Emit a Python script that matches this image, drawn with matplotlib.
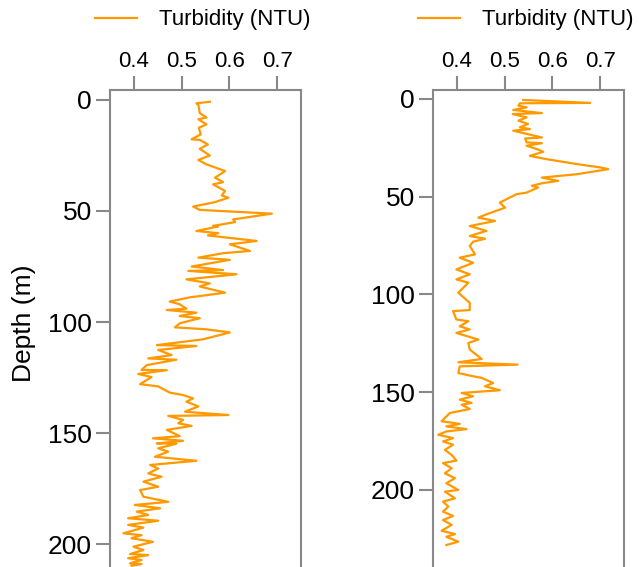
import numpy as np
import matplotlib
matplotlib.use("Agg")
import matplotlib.pyplot as plt

plt.rcParams['font.family'] = ['Liberation Sans', 'DejaVu Sans']

# ---- profile 1 (left panel) ----
depth_1 = [0.8, 1.5, 2.2, 5.9, 7.9, 8.7, 11, 12.5, 15.5, 17.7, 18, 20, 22, 25, 27, 29,
           32, 35, 37, 38, 41, 43, 44, 46, 48, 49.5, 51.2, 53.8, 55, 56.7, 57, 59, 60,
           61, 63.5, 65, 68, 69, 71, 72, 75, 76.6, 77, 78.5, 80.8, 82.6, 84, 86.8,
           88.9, 90.8, 92, 94, 94.6, 95.8, 97.3, 98.3, 100.6, 102.4, 103.3, 104.7,
           107.8, 110.4, 110.8, 112.6, 114.9, 116.4, 117, 119.4, 121.6, 121.7, 123.4,
           124.8, 128, 129, 131.8, 132.9, 134.4, 135.9, 138, 140.4, 141.9, 142.3,
           144.1, 145.6, 146.8, 148.6, 151.4, 152.4, 153.5, 154.7, 154.8, 156.9, 158.4,
           160.7, 162.5, 163.6, 164.4, 166, 168.2, 169.7, 171.9, 174.2, 175.7, 178.7,
           181, 182.4, 183.9, 185.4, 186.9, 188.4, 189.5, 191.4, 192.6, 195.2, 196,
           197.4, 199, 201.2, 202.7, 204.5, 205, 206.4, 207.2, 208.7, 209, 209.8]
turb_1 = [0.559, 0.531, 0.535, 0.538, 0.552, 0.535, 0.552, 0.536, 0.540, 0.521, 0.538,
          0.555, 0.538, 0.559, 0.535, 0.552, 0.591, 0.570, 0.587, 0.566, 0.591, 0.584,
          0.598, 0.570, 0.524, 0.538, 0.689, 0.608, 0.612, 0.566, 0.576, 0.531, 0.577,
          0.555, 0.657, 0.601, 0.643, 0.587, 0.535, 0.601, 0.521, 0.587, 0.514, 0.615,
          0.510, 0.559, 0.538, 0.591, 0.517, 0.475, 0.496, 0.510, 0.469, 0.531, 0.496,
          0.538, 0.496, 0.486, 0.552, 0.601, 0.545, 0.448, 0.531, 0.451, 0.479, 0.430,
          0.489, 0.427, 0.416, 0.469, 0.409, 0.437, 0.413, 0.451, 0.475, 0.503, 0.524,
          0.510, 0.535, 0.507, 0.598, 0.472, 0.503, 0.493, 0.521, 0.469, 0.496, 0.440,
          0.503, 0.448, 0.489, 0.451, 0.472, 0.444, 0.531, 0.475, 0.434, 0.451, 0.430,
          0.458, 0.420, 0.451, 0.413, 0.420, 0.472, 0.402, 0.455, 0.406, 0.430, 0.388,
          0.451, 0.388, 0.420, 0.378, 0.416, 0.395, 0.440, 0.399, 0.420, 0.392, 0.430,
          0.388, 0.416, 0.392, 0.416, 0.395]

# ---- profile 2 (right panel) ----
depth_2 = [0.5, 2, 2.2, 3.4, 4.3, 5.6, 7.2, 7.7, 9.4, 11.1, 12.8, 14.5, 15.4, 16.2,
           19.7, 20.2, 22.2, 22.6, 23.9, 25.6, 27, 29.1, 30.8, 33.3, 35, 35.9, 38.5,
           40.2, 41.9, 43, 44.4, 45.3, 47.9, 48.7, 50.4, 53, 55.6, 59, 60.7, 62.4, 65,
           67.5, 70.1, 71.5, 73, 75.2, 79.5, 81.2, 83.8, 87.2, 89.7, 92.3, 94, 99.1,
           104.3, 108, 108.5, 112.8, 113.7, 116.3, 117.9, 119.7, 123.1, 124.8, 128.2,
           133, 134.7, 135.9, 136.8, 140.2, 141.5, 142.7, 145.3, 147, 149, 150.4, 152.1,
           153.8, 155.5, 156.4, 158.6, 160.7, 164.9, 166.2, 167.5, 168.9, 170.1, 171.8,
           173.5, 175.2, 176.9, 179.5, 182.1, 185, 186.3, 188.9, 191.5, 194, 196.6, 200,
           200.9, 204.3, 206, 208.5, 211.1, 213.3, 215.4, 217.9, 220.9, 222.6, 224,
           226.5, 228.2]
turb_2 = [0.539, 0.679, 0.532, 0.529, 0.546, 0.518, 0.578, 0.517, 0.546, 0.529, 0.549,
          0.532, 0.553, 0.518, 0.578, 0.543, 0.546, 0.578, 0.546, 0.567, 0.581, 0.553,
          0.588, 0.651, 0.700, 0.717, 0.651, 0.578, 0.612, 0.581, 0.557, 0.570, 0.546,
          0.525, 0.511, 0.490, 0.501, 0.462, 0.445, 0.480, 0.427, 0.462, 0.427, 0.459,
          0.434, 0.427, 0.438, 0.406, 0.434, 0.399, 0.427, 0.399, 0.424, 0.403, 0.427,
          0.427, 0.392, 0.399, 0.424, 0.406, 0.427, 0.399, 0.445, 0.424, 0.427, 0.452,
          0.403, 0.527, 0.406, 0.403, 0.427, 0.452, 0.476, 0.459, 0.490, 0.410, 0.434,
          0.406, 0.431, 0.410, 0.427, 0.385, 0.368, 0.406, 0.378, 0.420, 0.378, 0.361,
          0.392, 0.371, 0.392, 0.375, 0.389, 0.399, 0.371, 0.389, 0.375, 0.396, 0.378,
          0.403, 0.375, 0.396, 0.371, 0.382, 0.371, 0.392, 0.371, 0.389, 0.368, 0.396,
          0.378, 0.403, 0.378]

x_ticks = [0.4, 0.5, 0.6, 0.7]
y_ticks = [0, 50, 100, 150, 200]
legend_label = 'Turbidity (NTU)'

LINE_COLOR = '#FF9900'
SPINE_COLOR = '#888888'

fig = plt.figure(figsize=(6.39, 5.67), dpi=100)

W, H = 639.0, 567.0
panels = [
    # (left px, depth, turbidity, ylim bottom, ylim top, legend px)
    (110, depth_1, turb_1, 212.6, -4.5, 95),
    (433, depth_2, turb_2, 242.0, -4.6, 418),
]

axes = []
for left_px, d, t, ybot, ytop, leg_px in panels:
    ax = fig.add_axes([left_px / W, 1 - 572 / H, 191 / W, (572 - 90) / H])
    ax.plot(t, d, color=LINE_COLOR, lw=1.6, label=legend_label)
    ax.set_xlim(0.35, 0.75)
    ax.set_ylim(ybot, ytop)
    ax.set_xticks(x_ticks)
    ax.set_yticks(y_ticks)
    ax.xaxis.tick_top()
    for s in ax.spines.values():
        s.set_color(SPINE_COLOR)
        s.set_linewidth(1.5)
    ax.tick_params(axis='x', colors=SPINE_COLOR, labelcolor='black', labelsize=16,
                   length=10, width=1.5, pad=3)
    ax.tick_params(axis='y', colors=SPINE_COLOR, labelcolor='black', labelsize=19,
                   length=10, width=1.5, pad=3)
    ax.legend(loc='center left', bbox_to_anchor=(leg_px / W, 1 - 20 / H),
              bbox_transform=fig.transFigure, frameon=False, fontsize=16,
              handlelength=1.9, handletextpad=1.0, borderpad=0, borderaxespad=0)
    axes.append(ax)

axes[0].set_ylabel('Depth (m)', fontsize=19)
axes[0].yaxis.set_label_coords((36 - 110) / 191, (572 - 323) / (572 - 90))

fig.savefig('out.png', dpi=100)
